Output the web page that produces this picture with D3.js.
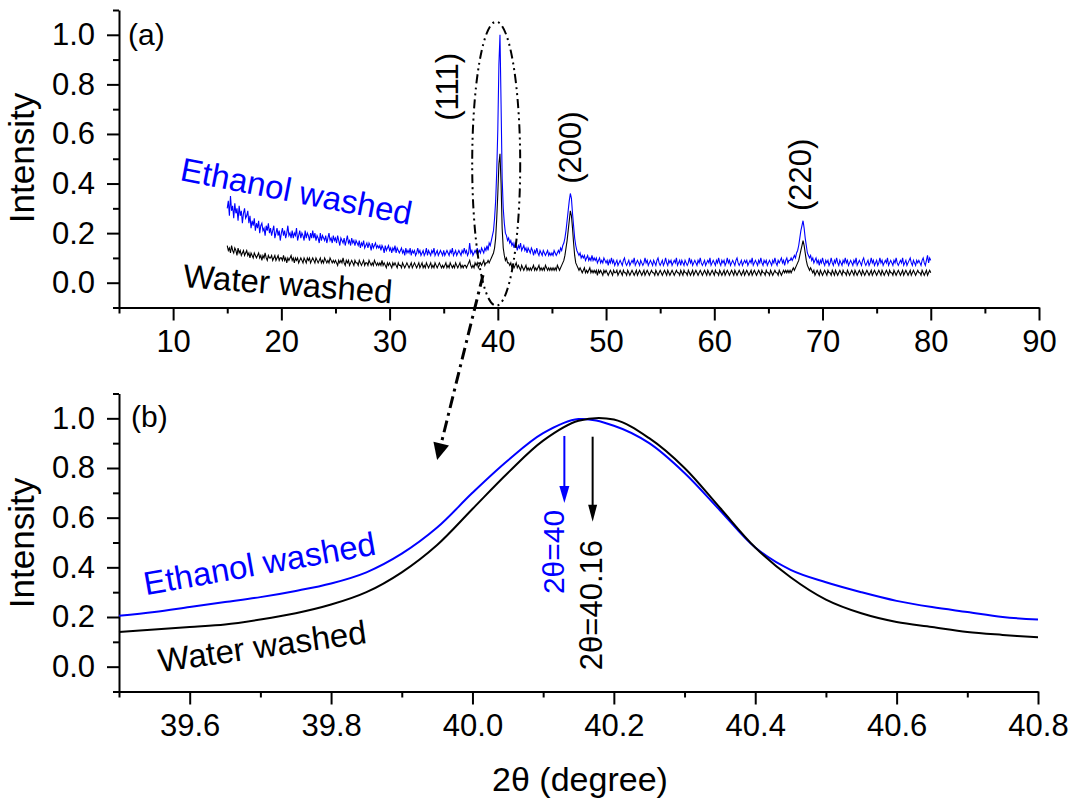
<!DOCTYPE html>
<html><head><meta charset="utf-8">
<script src="https://cdn.jsdelivr.net/npm/d3@7"></script>
<style>body{margin:0;background:#fff}svg{display:block}text{font-family:"Liberation Sans",Arial,sans-serif}</style>
</head><body><svg id="c" width="1080" height="807"></svg>
<script>
// ---- data (panel a: full XRD scan, 15 to 80 deg, step 0.1) ----
const scanStart = 15, scanStep = 0.1;
const ethanolScan = [
.30,.33,.27,.35,.29,.31,.26,.32,.28,.30,.25,.31,.27,.29,.24,.28,.30,.26,.27,.29,
.24,.27,.22,.25,.23,.26,.21,.24,.22,.25,.20,.23,.24,.21,.22,.19,.23,.21,.24,.20,
.22,.19,.21,.23,.18,.20,.22,.19,.21,.17,.20,.22,.19,.21,.18,.20,.23,.19,.20,.18,
.21,.18,.20,.19,.22,.17,.19,.21,.18,.20,.19,.17,.21,.18,.20,.19,.17,.20,.18,.21,
.18,.20,.17,.19,.18,.16,.20,.17,.19,.18,.17,.19,.16,.18,.20,.17,.18,.16,.19,.17,
.18,.16,.19,.17,.15,.18,.17,.16,.18,.15,.17,.19,.16,.17,.15,.18,.16,.17,.15,.17,
.16,.15,.17,.14,.16,.15,.17,.14,.15,.16,.14,.16,.15,.13,.16,.14,.15,.16,.14,.15,
.14,.15,.13,.15,.14,.12,.15,.13,.14,.15,.13,.14,.12,.14,.13,.15,.12,.14,.13,.12,
.13,.14,.12,.13,.11,.14,.12,.13,.12,.14,.11,.13,.12,.13,.11,.12,.14,.12,.13,.11,
.12,.13,.11,.12,.14,.11,.13,.12,.11,.13,.12,.14,.11,.12,.13,.11,.12,.13,.12,.11,
.13,.11,.12,.13,.12,.11,.13,.12,.14,.11,.12,.13,.11,.12,.13,.12,.11,.13,.12,.14,
.12,.13,.11,.12,.16,.12,.13,.11,.12,.13,.12,.14,.12,.13,.12,.14,.13,.12,.14,.13,
.15,.13,.16,.15,.17,.19,.21,.26,.33,.45,.62,.88,1.0,.72,.42,.30,.24,.20,.19,.17,
.18,.16,.17,.15,.16,.14,.16,.15,.13,.15,.14,.16,.13,.14,.15,.13,.14,.12,.14,.13,
.12,.14,.13,.11,.13,.12,.14,.12,.11,.13,.12,.11,.13,.12,.11,.12,.13,.11,.12,.11,
.12,.11,.13,.12,.11,.12,.13,.12,.14,.13,.15,.16,.18,.21,.25,.29,.33,.36,.34,.28,
.23,.18,.15,.13,.12,.11,.12,.10,.11,.10,.11,.09,.10,.11,.09,.10,.09,.11,.09,.10,
.09,.10,.08,.09,.10,.08,.09,.08,.10,.09,.08,.09,.07,.09,.08,.10,.08,.09,.07,.08,
.09,.07,.08,.09,.08,.07,.09,.10,.08,.07,.08,.09,.07,.08,.09,.08,.10,.07,.08,.09,
.08,.07,.09,.08,.07,.08,.10,.08,.09,.07,.08,.09,.08,.07,.09,.08,.07,.09,.10,.08,
.07,.08,.09,.07,.08,.10,.08,.07,.09,.08,.09,.07,.08,.09,.08,.10,.07,.08,.09,.07,
.09,.08,.07,.09,.08,.07,.08,.10,.08,.09,.07,.08,.09,.08,.07,.09,.08,.10,.08,.07,
.08,.09,.07,.08,.09,.08,.10,.07,.08,.09,.08,.07,.09,.08,.10,.08,.07,.09,.08,.09,
.07,.08,.10,.08,.09,.07,.08,.09,.08,.07,.09,.10,.08,.07,.08,.09,.07,.08,.09,.08,
.09,.07,.08,.09,.08,.10,.07,.08,.09,.08,.07,.09,.08,.10,.08,.07,.09,.08,.09,.07,
.08,.09,.08,.07,.09,.08,.10,.08,.07,.09,.08,.09,.10,.08,.09,.07,.09,.10,.08,.09,
.09,.10,.09,.10,.11,.10,.12,.13,.15,.18,.21,.23,.25,.22,.18,.15,.12,.11,.10,.11,
.09,.10,.08,.09,.10,.08,.09,.07,.09,.08,.10,.08,.07,.09,.08,.09,.07,.08,.10,.08,
.07,.09,.08,.10,.08,.07,.09,.08,.07,.09,.08,.10,.08,.09,.07,.08,.09,.08,.07,.09,
.08,.10,.07,.08,.09,.08,.07,.09,.10,.08,.07,.08,.09,.07,.08,.10,.08,.09,.07,.08,
.09,.07,.08,.10,.08,.09,.07,.08,.09,.08,.10,.07,.08,.09,.08,.07,.09,.08,.10,.08,
.07,.08,.09,.08,.10,.07,.08,.09,.07,.08,.09,.10,.08,.07,.09,.08,.07,.09,.08,.09,
.08,.07,.09,.10,.08,.07,.09,.11,.08,.10,.09];
const waterScan = [
.15,.13,.14,.12,.15,.13,.12,.14,.13,.11,.14,.12,.13,.11,.12,.13,.11,.12,.13,.11,
.12,.10,.12,.11,.10,.12,.11,.10,.11,.12,.10,.11,.09,.11,.10,.12,.10,.09,.11,.10,
.10,.11,.09,.10,.11,.09,.10,.11,.09,.10,.10,.09,.11,.09,.10,.08,.10,.09,.10,.11,
.09,.10,.08,.10,.09,.10,.08,.09,.10,.09,.08,.10,.09,.08,.10,.09,.10,.08,.09,.10,
.09,.08,.10,.09,.08,.09,.10,.08,.09,.08,.10,.09,.08,.09,.08,.10,.09,.08,.09,.08,
.09,.08,.07,.09,.08,.09,.08,.10,.08,.07,.09,.08,.09,.07,.08,.09,.08,.07,.09,.08,
.08,.07,.09,.08,.07,.08,.09,.07,.08,.08,.07,.09,.08,.07,.08,.07,.09,.08,.07,.08,
.07,.08,.07,.09,.07,.08,.07,.06,.08,.07,.08,.07,.06,.08,.07,.08,.07,.06,.08,.07,
.07,.06,.08,.07,.06,.07,.08,.07,.06,.07,.08,.06,.07,.08,.07,.06,.07,.08,.06,.07,
.08,.06,.07,.06,.08,.07,.06,.07,.08,.06,.07,.06,.08,.07,.06,.07,.08,.07,.06,.07,
.06,.07,.08,.06,.07,.06,.08,.07,.06,.07,.06,.08,.07,.06,.07,.08,.06,.07,.06,.07,
.07,.06,.07,.08,.09,.07,.06,.07,.06,.08,.07,.08,.06,.07,.08,.07,.08,.09,.07,.08,
.08,.09,.08,.09,.10,.11,.12,.14,.18,.26,.36,.48,.52,.40,.22,.14,.11,.09,.10,.08,
.08,.07,.08,.06,.07,.06,.07,.08,.06,.07,.06,.05,.07,.06,.05,.06,.07,.05,.06,.05,
.06,.05,.06,.07,.05,.06,.05,.06,.07,.05,.06,.05,.06,.05,.07,.06,.05,.06,.05,.06,
.05,.06,.05,.06,.05,.07,.06,.05,.06,.07,.08,.09,.11,.14,.17,.21,.25,.29,.27,.22,
.16,.11,.08,.07,.06,.05,.06,.05,.04,.05,.06,.04,.05,.04,.05,.06,.04,.05,.04,.05,
.04,.05,.03,.05,.04,.05,.04,.03,.05,.04,.05,.04,.03,.04,.05,.04,.03,.05,.04,.04,
.05,.03,.04,.05,.04,.03,.05,.04,.04,.03,.05,.04,.03,.04,.05,.04,.03,.04,.05,.03,
.04,.05,.04,.03,.04,.05,.03,.04,.05,.04,.03,.04,.05,.04,.04,.03,.05,.04,.03,.04,
.05,.04,.03,.04,.05,.04,.03,.05,.04,.03,.04,.05,.04,.03,.04,.05,.04,.04,.03,.05,
.04,.03,.05,.04,.04,.03,.05,.04,.03,.04,.05,.03,.04,.05,.04,.03,.04,.05,.04,.03,
.04,.05,.04,.03,.05,.04,.03,.04,.05,.04,.03,.05,.04,.04,.03,.05,.04,.03,.04,.05,
.03,.04,.05,.04,.03,.04,.05,.04,.03,.05,.04,.03,.04,.05,.04,.03,.04,.05,.03,.04,
.05,.04,.03,.04,.05,.03,.04,.05,.04,.03,.04,.05,.04,.03,.05,.04,.04,.03,.05,.04,
.04,.03,.05,.04,.03,.04,.05,.04,.04,.03,.05,.04,.03,.04,.05,.04,.05,.04,.05,.04,
.05,.04,.05,.06,.05,.06,.07,.08,.09,.11,.13,.15,.17,.15,.12,.09,.07,.06,.05,.06,
.05,.04,.05,.03,.04,.05,.04,.03,.05,.04,.03,.04,.05,.04,.03,.05,.04,.04,.03,.05,
.04,.03,.05,.04,.03,.04,.05,.04,.03,.05,.04,.04,.03,.05,.04,.03,.04,.05,.04,.03,
.05,.04,.03,.04,.05,.04,.03,.05,.04,.03,.04,.05,.04,.03,.04,.05,.03,.04,.05,.04,
.03,.04,.05,.04,.03,.05,.04,.03,.04,.05,.04,.03,.05,.04,.04,.03,.05,.04,.03,.04,
.05,.04,.03,.04,.05,.03,.04,.05,.04,.03,.04,.05,.03,.04,.05,.04,.03,.04,.05,.04,
.04,.03,.05,.04,.03,.04,.05,.03,.04,.05,.04];
const peakNames = ["(111)", "(200)", "(220)"];
const peakLabelTheta = [35.55, 46.95, 68.2];
const peakLabelLevel = [0.79, 0.545, 0.435];

// ---- data (panel b: zoom on the (111) peak) ----
const zoomTheta = [39.5,39.55,39.6,39.65,39.7,39.75,39.8,39.85,39.9,39.95,40.0,40.05,40.1,40.15,40.2,40.25,40.3,40.35,40.4,40.45,40.5,40.55,40.6,40.65,40.7,40.75,40.8];
const ethanolZoom = [.205,.22,.24,.26,.28,.305,.335,.38,.455,.56,.70,.83,.94,.997,.97,.90,.78,.63,.48,.39,.34,.30,.265,.24,.22,.20,.19];
const waterZoom   = [.14,.15,.16,.17,.19,.215,.25,.30,.38,.49,.635,.78,.91,.99,.995,.92,.80,.64,.48,.36,.27,.215,.18,.16,.14,.128,.118];
const peakTheta = [40.13, 40.17];
const peakText = ["2\u03b8=40", "2\u03b8=40.16"];

// ---- ticks ----
const topXTicks = [10,20,30,40,50,60,70,80,90];
const topXMinor = [5,15,25,35,45,55,65,75,85];
const botXTicks = [39.6,39.8,40.0,40.2,40.4,40.6,40.8];
const botXMinor = [39.5,39.7,39.9,40.1,40.3,40.5,40.7];
const yTicks = [0,0.2,0.4,0.6,0.8,1.0];
const yMinor = [-0.1,0.1,0.3,0.5,0.7,0.9,1.1];

const BLUE = "#0000ff";
const svg = d3.select("#c");

const xTop = d3.scaleLinear().domain([5,90]).range([119,1039]);
const yTop = d3.scaleLinear().domain([-0.1,1.1]).range([307.5,10]);
const xBot = d3.scaleLinear().domain([39.5,40.8]).range([119,1038]);
const yBot = d3.scaleLinear().domain([-0.1,1.1]).range([691.5,393.5]);

function styleAxis(sel){
  sel.selectAll("path,line").attr("stroke","#000").attr("stroke-width",2);
  sel.selectAll("text").attr("font-size",31).attr("fill","#000").attr("font-family",'"Liberation Sans",Arial,sans-serif');
}
function axes(x, y, xMajor, xMinor, fmt){
  const y0 = y.range()[0], x0 = x.range()[0];
  svg.append("g").attr("transform",`translate(0,${y0})`)
    .call(d3.axisBottom(x).tickValues(xMinor).tickSize(6).tickFormat("").tickSizeOuter(0))
    .call(g=>g.select(".domain").remove()).call(styleAxis);
  svg.append("g").attr("transform",`translate(0,${y0})`)
    .call(d3.axisBottom(x).tickValues(xMajor).tickSize(13).tickPadding(9).tickFormat(fmt).tickSizeOuter(0))
    .call(styleAxis);
  svg.append("g").attr("transform",`translate(${x0},0)`)
    .call(d3.axisLeft(y).tickValues(yMinor).tickSize(6).tickFormat("").tickSizeOuter(0))
    .call(g=>g.select(".domain").remove()).call(styleAxis);
  svg.append("g").attr("transform",`translate(${x0},0)`)
    .call(d3.axisLeft(y).tickValues(yTicks).tickSize(12).tickPadding(12).tickFormat(d3.format(".1f")).tickSizeOuter(0))
    .call(styleAxis);
}
axes(xTop, yTop, topXTicks, topXMinor, d3.format("d"));
axes(xBot, yBot, botXTicks, botXMinor, d3.format(".1f"));

// ---- panel a lines ----
const scanLine = d3.line().x((d,i)=>xTop(scanStart+i*scanStep)).y(d=>yTop(d));
svg.append("path").datum(ethanolScan).attr("d",scanLine).attr("fill","none").attr("stroke",BLUE).attr("stroke-width",1.1);
svg.append("path").datum(waterScan).attr("d",scanLine).attr("fill","none").attr("stroke","#000").attr("stroke-width",1.1);

// ---- panel b lines ----
const zLine = d3.line().curve(d3.curveCatmullRom).x((d,i)=>xBot(zoomTheta[i])).y(d=>yBot(d));
svg.append("path").datum(ethanolZoom).attr("d",zLine).attr("fill","none").attr("stroke",BLUE).attr("stroke-width",2);
svg.append("path").datum(waterZoom).attr("d",zLine).attr("fill","none").attr("stroke","#000").attr("stroke-width",2);

// ---- labels ----
function label(x,y,txt,opt={}){
  const t = svg.append("text").attr("transform",`translate(${x},${y}) rotate(${opt.rot||0})`)
    .attr("font-size",opt.size||31).attr("fill",opt.color||"#000")
    .attr("text-anchor",opt.anchor||"start").text(txt);
  if(opt.dy) t.attr("dy",opt.dy);
  return t;
}
label(128,45,"(a)",{size:30});
label(131,427,"(b)",{size:30});
label(34,158,"Intensity",{size:35,rot:-90,anchor:"middle"});
label(34,543,"Intensity",{size:35,rot:-90,anchor:"middle"});
label(580,791,"2\u03b8 (degree)",{size:34,anchor:"middle"});

peakNames.forEach((n,i)=>label(xTop(peakLabelTheta[i]),yTop(peakLabelLevel[i]),n,{size:31,rot:-90,anchor:"middle",dy:"0.27em"}));

label(xTop(10.54),yTop(0.414),"Ethanol washed",{size:33,rot:11,color:BLUE});
label(xTop(10.87),yTop(-0.017),"Water washed",{size:33,rot:4.5});
label(xBot(39.538),yBot(0.288),"Ethanol washed",{size:33,rot:-10,color:BLUE});
label(xBot(39.558),yBot(-0.022),"Water washed",{size:33,rot:-8});

// peak position arrows (panel b)
function arrow(x1,y1,x2,y2,color,w,len,half,dash){
  const dx=x2-x1, dy=y2-y1, L=Math.hypot(dx,dy), ux=dx/L, uy=dy/L;
  const bx=x2-ux*len, by=y2-uy*len;
  svg.append("line").attr("x1",x1).attr("y1",y1).attr("x2",bx+ux*2).attr("y2",by+uy*2)
    .attr("stroke",color).attr("stroke-width",w).attr("stroke-dasharray",dash||null);
  svg.append("path").attr("d",`M${x2},${y2}L${bx-uy*half},${by+ux*half}L${bx+uy*half},${by-ux*half}Z`).attr("fill",color);
}
arrow(xBot(peakTheta[0]),yBot(0.929),xBot(peakTheta[0]),yBot(0.659),BLUE,2,17,5);
arrow(xBot(peakTheta[1]),yBot(0.926),xBot(peakTheta[1]),yBot(0.584),"#000",2,17,4.5);
label(xBot(40.114),yBot(0.462),peakText[0],{size:30,rot:-90,anchor:"middle",dy:"0.35em",color:BLUE});
label(xBot(40.168),yBot(0.248),peakText[1],{size:31,rot:-90,anchor:"middle",dy:"0.35em"});

// dash-dot ellipse around (111) and arrow to panel b
svg.append("ellipse").attr("cx",xTop(39.85)).attr("cy",yTop(0.48)).attr("rx",24).attr("ry",142)
  .attr("fill","none").attr("stroke","#000").attr("stroke-width",2).attr("stroke-dasharray","9,4,2,4,2,4");
arrow(xTop(38.63),yTop(0.031),xBot(39.95),yBot(0.832),"#000",3,17,8,"12,5,3,5");
</script></body></html>
